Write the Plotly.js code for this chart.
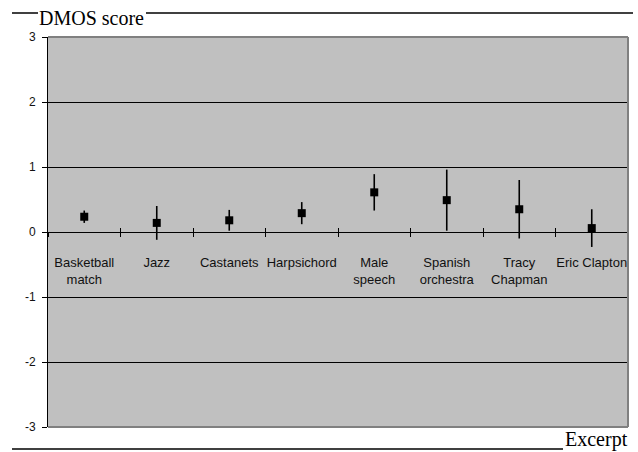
<!DOCTYPE html>
<html>
<head>
<meta charset="utf-8">
<script src="https://cdn.plot.ly/plotly-3.0.1.min.js"></script>
<style>html,body{margin:0;padding:0;background:#fff;}#chart{width:638px;height:452px;}</style>
</head>
<body>
<div id="chart"></div>
<script>
// Data
var excerpts = ["Basketball<br>match", "Jazz", "Castanets", "Harpsichord", "Male<br>speech", "Spanish<br>orchestra", "Tracy<br>Chapman", "Eric Clapton"];
var dmos = [0.235, 0.14, 0.18, 0.29, 0.61, 0.49, 0.35, 0.06];
var ci = [0.095, 0.26, 0.16, 0.17, 0.28, 0.47, 0.45, 0.29];
var yTicks = [-3, -2, -1, 0, 1, 2, 3];

var W = 638, H = 452;
var L = 48, R = 10, T = 37, B = 25;
var pw = W - L - R, ph = H - T - B;
function px(x) { return (x - L) / pw; }
function py(y) { return (H - B - y) / ph; }

var traces = [
  {
    x: excerpts, y: dmos, type: 'scatter', mode: 'markers',
    marker: {symbol: 'square', size: 8, color: '#000'},
    error_y: {type: 'data', array: ci, visible: true, color: '#000', thickness: 1.6, width: 0},
    hoverinfo: 'x+y', showlegend: false
  },
  {
    x: excerpts, y: dmos, type: 'scatter', mode: 'markers', xaxis: 'x2',
    marker: {size: 1, opacity: 0}, hoverinfo: 'skip', showlegend: false
  }
];

var greyLine = {color: '#808080', width: 2};
var blackLine = {color: '#000', width: 1.5};
var layout = {
  width: W, height: H,
  margin: {l: L, r: R, t: T, b: B},
  paper_bgcolor: '#ffffff',
  plot_bgcolor: '#c0c0c0',
  showlegend: false,
  title: {
    text: 'DMOS score',
    font: {family: 'Liberation Serif, Times New Roman, serif', size: 20, color: '#000'},
    xref: 'container', x: 39 / W, xanchor: 'left',
    yref: 'container', y: 1 - 18 / H, yanchor: 'middle'
  },
  xaxis: {
    type: 'category', range: [-0.5, 7.5],
    anchor: 'free', position: 0.5,
    showline: true, linecolor: '#000', linewidth: 1,
    ticks: 'outside', ticklen: 4, tickwidth: 1, tickcolor: '#000',
    tickson: 'boundaries', showgrid: false, zeroline: false,
    tickangle: 0,
    ticklabelstandoff: 18,
    tickfont: {family: 'Arial, Liberation Sans, sans-serif', size: 13, color: '#111'},
    fixedrange: true
  },
  xaxis2: {
    type: 'category', range: [-0.5, 7.5], overlaying: 'x',
    anchor: 'free', position: 0.5,
    showline: false, showticklabels: false,
    ticks: 'inside', ticklen: 4, tickwidth: 1, tickcolor: '#000',
    tickson: 'boundaries', showgrid: false, zeroline: false,
    fixedrange: true
  },
  yaxis: {
    range: [-3, 3], tickvals: yTicks, ticktext: yTicks.map(String),
    showline: true, linecolor: '#000', linewidth: 1,
    ticks: 'outside', ticklen: 5, tickwidth: 1, tickcolor: '#000',
    showgrid: true, gridcolor: '#000', gridwidth: 1,
    zeroline: false,
    ticklabelstandoff: 4,
    tickfont: {family: 'Arial, Liberation Sans, sans-serif', size: 12, color: '#111'},
    fixedrange: true
  },
  shapes: [
    {type: 'line', xref: 'paper', yref: 'paper', x0: 0, x1: 1, y0: 1, y1: 1, line: greyLine, layer: 'above'},
    {type: 'line', xref: 'paper', yref: 'paper', x0: 0, x1: 1, y0: 0, y1: 0, line: greyLine, layer: 'above'},
    {type: 'line', xref: 'paper', yref: 'paper', x0: 1, x1: 1, y0: 0, y1: 1, line: greyLine, layer: 'above'},
    {type: 'line', xref: 'paper', yref: 'paper', x0: px(12), x1: px(38), y0: py(13), y1: py(13), line: blackLine},
    {type: 'line', xref: 'paper', yref: 'paper', x0: px(146), x1: px(633), y0: py(13), y1: py(13), line: blackLine},
    {type: 'line', xref: 'paper', yref: 'paper', x0: px(12), x1: px(563), y0: py(449), y1: py(449), line: blackLine}
  ],
  annotations: [
    {
      text: 'Excerpt', showarrow: false,
      xref: 'paper', yref: 'paper', x: px(563), y: py(449),
      xanchor: 'left', yanchor: 'bottom', yshift: -4,
      font: {family: 'Liberation Serif, Times New Roman, serif', size: 20, color: '#000'}
    }
  ]
};

Plotly.newPlot('chart', traces, layout, {displayModeBar: false, staticPlot: true});
</script>
</body>
</html>
